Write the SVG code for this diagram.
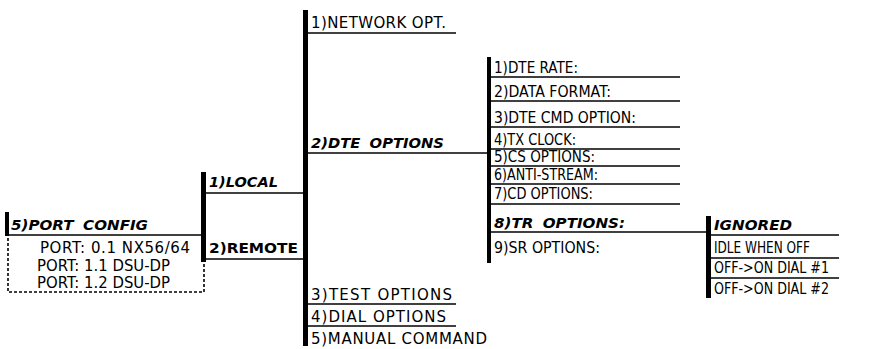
<svg xmlns="http://www.w3.org/2000/svg" width="887" height="349" viewBox="0 0 887 349">
<style>
.t{font-family:"DejaVu Sans",sans-serif;font-size:15px;fill:#000}
.b{font-family:"DejaVu Sans",sans-serif;font-size:14.5px;font-weight:bold;font-style:italic;fill:#000;word-spacing:4px}
.r{font-family:"DejaVu Sans",sans-serif;font-size:14.5px;font-weight:bold;fill:#000}
.bar{fill:#000}
.ln{stroke:#000;stroke-width:1.6;fill:none}
.dash{stroke:#000;stroke-width:1.6;fill:none;stroke-dasharray:3,2}
</style>
<g id="connectors">
<line class="ln" x1="6" y1="235" x2="203" y2="235"/>
<line class="ln" x1="206" y1="193" x2="303" y2="193"/>
<line class="ln" x1="206" y1="259" x2="303" y2="259"/>
<line class="ln" x1="308" y1="153" x2="487" y2="153"/>
<line class="ln" x1="491" y1="232" x2="706" y2="232"/>
</g>
<g id="port-config">
<rect class="bar" x="5" y="212" width="4" height="24"/>
<text class="b" x="11" y="230" textLength="137" lengthAdjust="spacingAndGlyphs">5)PORT CONFIG</text>
<path class="dash" d="M8,238 V292 H204 V262"/>
<text class="t" x="40" y="253" textLength="150" lengthAdjust="spacing">PORT: 0.1 NX56/64</text>
<text class="t" x="37" y="271" textLength="133" lengthAdjust="spacingAndGlyphs">PORT: 1.1 DSU-DP</text>
<text class="t" x="37" y="288" textLength="133" lengthAdjust="spacingAndGlyphs">PORT: 1.2 DSU-DP</text>
</g>
<g id="local-remote">
<rect class="bar" x="201" y="172" width="5" height="90"/>
<text class="b" x="209" y="187" textLength="69" lengthAdjust="spacingAndGlyphs">1)LOCAL</text>
<text class="r" x="209" y="253" textLength="89" lengthAdjust="spacingAndGlyphs">2)REMOTE</text>
</g>
<g id="local-menu">
<rect class="bar" x="303" y="10" width="5" height="336"/>
<text class="t" x="311" y="28" textLength="135" lengthAdjust="spacing">1)NETWORK OPT.</text>
<line class="ln" x1="308" y1="33" x2="456" y2="33"/>
<text class="b" x="311" y="148" textLength="133" lengthAdjust="spacingAndGlyphs">2)DTE OPTIONS</text>
<text class="t" x="311" y="300" textLength="141" lengthAdjust="spacing">3)TEST OPTIONS</text>
<line class="ln" x1="308" y1="304" x2="456" y2="304"/>
<text class="t" x="311" y="322" textLength="135" lengthAdjust="spacing">4)DIAL OPTIONS</text>
<line class="ln" x1="308" y1="326" x2="456" y2="326"/>
<text class="t" x="311" y="344" textLength="176" lengthAdjust="spacing">5)MANUAL COMMAND</text>
</g>
<g id="dte-options">
<rect class="bar" x="487" y="57" width="4" height="206"/>
<text class="t" x="494" y="73" textLength="84" lengthAdjust="spacingAndGlyphs">1)DTE RATE:</text>
<line class="ln" x1="491" y1="77" x2="680" y2="77"/>
<text class="t" x="494" y="97" textLength="117" lengthAdjust="spacingAndGlyphs">2)DATA FORMAT:</text>
<line class="ln" x1="491" y1="101" x2="680" y2="101"/>
<text class="t" x="494" y="123" textLength="142" lengthAdjust="spacingAndGlyphs">3)DTE CMD OPTION:</text>
<line class="ln" x1="491" y1="127" x2="680" y2="127"/>
<text class="t" x="494" y="145" textLength="82" lengthAdjust="spacingAndGlyphs">4)TX CLOCK:</text>
<line class="ln" x1="491" y1="149" x2="680" y2="149"/>
<text class="t" x="494" y="162" textLength="101" lengthAdjust="spacingAndGlyphs">5)CS OPTIONS:</text>
<line class="ln" x1="491" y1="166" x2="680" y2="166"/>
<text class="t" x="494" y="180" textLength="104" lengthAdjust="spacingAndGlyphs">6)ANTI-STREAM:</text>
<line class="ln" x1="491" y1="184" x2="680" y2="184"/>
<text class="t" x="494" y="199" textLength="99" lengthAdjust="spacingAndGlyphs">7)CD OPTIONS:</text>
<line class="ln" x1="491" y1="204" x2="680" y2="204"/>
<text class="b" x="494" y="228" textLength="131" lengthAdjust="spacingAndGlyphs">8)TR OPTIONS:</text>
<text class="t" x="494" y="253" textLength="106" lengthAdjust="spacingAndGlyphs">9)SR OPTIONS:</text>
</g>
<g id="tr-options">
<rect class="bar" x="706" y="216" width="5" height="82"/>
<text class="b" x="714" y="230" textLength="78" lengthAdjust="spacingAndGlyphs">IGNORED</text>
<line class="ln" x1="711" y1="235" x2="839" y2="235"/>
<text class="t" x="714" y="253" textLength="96" lengthAdjust="spacingAndGlyphs">IDLE WHEN OFF</text>
<line class="ln" x1="711" y1="258" x2="839" y2="258"/>
<text class="t" x="714" y="273" textLength="115" lengthAdjust="spacingAndGlyphs">OFF-&gt;ON DIAL #1</text>
<line class="ln" x1="711" y1="278" x2="839" y2="278"/>
<text class="t" x="714" y="294" textLength="115" lengthAdjust="spacingAndGlyphs">OFF-&gt;ON DIAL #2</text>
</g>
</svg>
